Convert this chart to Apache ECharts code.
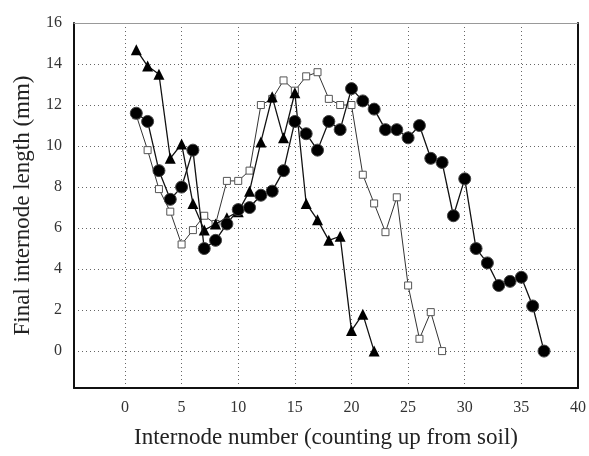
<!DOCTYPE html>
<html>
<head>
    <meta charset="utf-8">
    <title>Final internode length</title>
    <script src="https://cdn.jsdelivr.net/npm/echarts@6/dist/echarts.min.js"></script>
    <style>
        html, body { margin: 0; padding: 0; background: #fff; }
        #chart { width: 589px; height: 456px; }
    </style>
</head>
<body>
<div id="chart"></div>
<script type="text/javascript">
    // tick values
    var xTicks = [0, 5, 10, 15, 20, 25, 30, 35, 40];
    var yTicks = [0, 2, 4, 6, 8, 10, 12, 14, 16];

    // circles (internodes 1..37)
    var circleX = [1, 2, 3, 4, 5, 6, 7, 8, 9, 10, 11, 12, 13, 14, 15, 16, 17, 18, 19, 20,
        21, 22, 23, 24, 25, 26, 27, 28, 29, 30, 31, 32, 33, 34, 35, 36, 37];
    var circleY = [11.6, 11.2, 8.8, 7.4, 8.0, 9.8, 5.0, 5.4, 6.2, 6.9, 7.0, 7.6, 7.8, 8.8, 11.2, 10.6, 9.8, 11.2, 10.8, 12.8,
        12.2, 11.8, 10.8, 10.8, 10.4, 11.0, 9.4, 9.2, 6.6, 8.4, 5.0, 4.3, 3.2, 3.4, 3.6, 2.2, 0];

    // triangles (internodes 1..22)
    var triX = [1, 2, 3, 4, 5, 6, 7, 8, 9, 10, 11, 12, 13, 14, 15, 16, 17, 18, 19, 20, 21, 22];
    var triY = [14.7, 13.9, 13.5, 9.4, 10.1, 7.2, 5.9, 6.2, 6.5, 6.8, 7.8, 10.2, 12.4, 10.4, 12.6, 7.2, 6.4, 5.4, 5.6, 1.0, 1.8, 0];

    // open squares (internodes 1..28)
    var sqX = [1, 2, 3, 4, 5, 6, 7, 8, 9, 10, 11, 12, 13, 14, 15, 16, 17, 18, 19, 20, 21, 22, 23, 24, 25, 26, 27, 28];
    var sqY = [11.5, 9.8, 7.9, 6.8, 5.2, 5.9, 6.6, 6.2, 8.3, 8.3, 8.8, 12.0, 12.3, 13.2, 12.7, 13.4, 13.6, 12.3, 12.0, 12.0,
        8.6, 7.2, 5.8, 7.5, 3.2, 0.6, 1.9, 0];

    function pairs(xs, ys) {
        return xs.map(function (x, i) { return [x, ys[i]]; });
    }

    var serif = 'Liberation Serif';
    var chart = echarts.init(document.getElementById('chart'));

    chart.setOption({
        animation: false,
        backgroundColor: '#fff',
        grid: { left: 74, right: 9, top: 23, bottom: 68 },
        xAxis: [{
            type: 'value',
            min: -4.5,
            max: 40,
            name: 'Internode number (counting up from soil)',
            nameLocation: 'middle',
            nameGap: 38,
            nameTextStyle: { fontFamily: serif, fontSize: 23, color: '#222' },
            axisLine: { onZero: false, lineStyle: { color: '#111', width: 2 } },
            axisTick: { show: false, customValues: xTicks },
            axisLabel: { customValues: xTicks, margin: 12, fontFamily: serif, fontSize: 16, color: '#333' },
            splitLine: { show: true, lineStyle: { color: '#666', type: [1, 3], width: 1 } }
        }, {
            type: 'value',
            position: 'top',
            min: -4.5,
            max: 40,
            axisLine: { show: true, onZero: false, lineStyle: { color: '#999', width: 1 } },
            axisTick: { show: false },
            axisLabel: { show: false },
            splitLine: { show: false }
        }],
        yAxis: [{
            type: 'value',
            min: -1.8,
            max: 16,
            name: 'Final internode length (mm)',
            nameLocation: 'middle',
            nameGap: 40,
            nameTextStyle: { fontFamily: serif, fontSize: 23, color: '#222' },
            axisLine: { show: true, onZero: false, lineStyle: { color: '#111', width: 2 } },
            axisTick: { show: false, customValues: yTicks },
            axisLabel: { customValues: yTicks, margin: 12, fontFamily: serif, fontSize: 16, color: '#333' },
            splitLine: { show: true, lineStyle: { color: '#666', type: [1, 3], width: 1 } }
        }, {
            type: 'value',
            position: 'right',
            min: -1.8,
            max: 16,
            axisLine: { show: true, onZero: false, lineStyle: { color: '#111', width: 2 } },
            axisTick: { show: false },
            axisLabel: { show: false },
            splitLine: { show: false }
        }],
        series: [
            {
                name: 'squares',
                type: 'line',
                data: pairs(sqX, sqY),
                symbol: 'rect',
                symbolSize: 7,
                lineStyle: { color: '#333', width: 1 },
                itemStyle: { color: '#fff', borderColor: '#555', borderWidth: 1 },
                z: 2
            },
            {
                name: 'triangles',
                type: 'line',
                data: pairs(triX, triY),
                symbol: 'triangle',
                symbolSize: 11,
                lineStyle: { color: '#111', width: 1.3 },
                itemStyle: { color: '#000', borderColor: '#000', borderWidth: 0 },
                z: 3
            },
            {
                name: 'circles',
                type: 'line',
                data: pairs(circleX, circleY),
                symbol: 'circle',
                symbolSize: 12,
                lineStyle: { color: '#111', width: 1.3 },
                itemStyle: { color: '#000', borderColor: '#444', borderWidth: 1 },
                z: 4
            }
        ]
    });
</script>
</body>
</html>
